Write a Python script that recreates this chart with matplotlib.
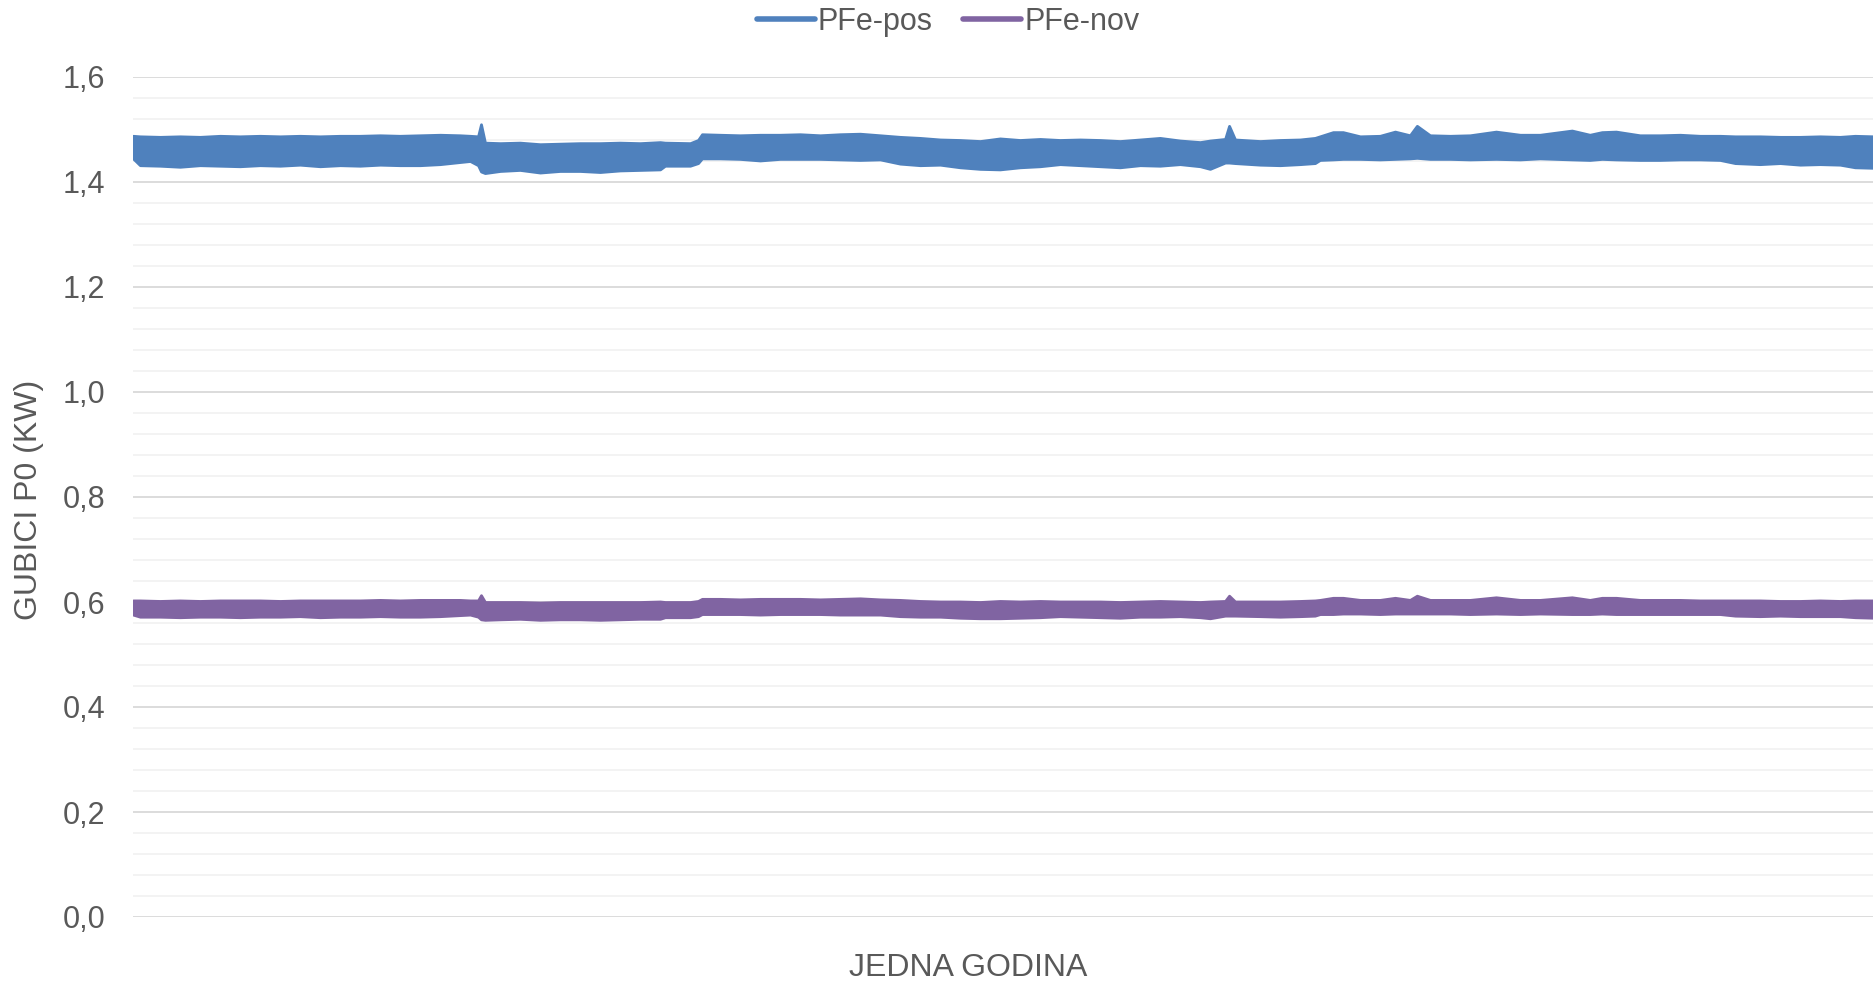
import matplotlib
matplotlib.use('Agg')
import matplotlib.pyplot as plt
from matplotlib.lines import Line2D
from matplotlib.ticker import MultipleLocator, FuncFormatter

plt.rcParams['font.family'] = ['Liberation Sans', 'DejaVu Sans']

# sat u godini (mjesta ocitavanja sa slike)
sati = [0, 35, 136, 236, 337, 438, 538, 639, 740, 840, 941, 1042, 1142, 1243, 1343,
        1444, 1545, 1645, 1696, 1736, 1751, 1771, 1847, 1947, 2048, 2148, 2249, 2350,
        2450, 2551, 2652, 2677, 2803, 2843, 2863, 2954, 3054, 3155, 3255, 3356, 3457,
        3557, 3658, 3759, 3859, 3960, 4061, 4161, 4262, 4362, 4463, 4564, 4664, 4765,
        4866, 4966, 5067, 5167, 5268, 5369, 5419, 5495, 5515, 5545, 5671, 5771, 5872,
        5947, 5972, 6038, 6088, 6174, 6274, 6350, 6425, 6460, 6526, 6627, 6727, 6858,
        6979, 7079, 7240, 7330, 7391, 7462, 7582, 7683, 7784, 7884, 7985, 8061, 8186,
        8287, 8388, 8488, 8589, 8664, 8760]

# PFe-pos: gornja i donja granica pojasa (kW)
pos_gore = [1.488, 1.487, 1.486, 1.487, 1.486, 1.488, 1.487, 1.488, 1.487, 1.488, 1.487,
            1.488, 1.488, 1.489, 1.488, 1.489, 1.490, 1.489, 1.488, 1.487, 1.510, 1.475,
            1.474, 1.475, 1.472, 1.473, 1.474, 1.474, 1.475, 1.474, 1.476, 1.475, 1.474,
            1.480, 1.491, 1.490, 1.489, 1.490, 1.490, 1.491, 1.489, 1.491, 1.492, 1.489,
            1.486, 1.484, 1.481, 1.480, 1.478, 1.483, 1.480, 1.482, 1.480, 1.481, 1.480,
            1.478, 1.481, 1.484, 1.479, 1.476, 1.479, 1.482, 1.507, 1.481, 1.478, 1.480,
            1.481, 1.484, 1.487, 1.495, 1.495, 1.487, 1.488, 1.496, 1.489, 1.507, 1.489,
            1.488, 1.489, 1.496, 1.490, 1.490, 1.498, 1.490, 1.495, 1.496, 1.489, 1.489,
            1.490, 1.488, 1.488, 1.487, 1.487, 1.486, 1.486, 1.487, 1.486, 1.488, 1.487]
pos_dolje = [1.445, 1.432, 1.431, 1.429, 1.432, 1.431, 1.430, 1.432, 1.431, 1.433, 1.430,
             1.432, 1.431, 1.433, 1.432, 1.432, 1.434, 1.438, 1.440, 1.432, 1.420, 1.417,
             1.421, 1.423, 1.418, 1.421, 1.421, 1.419, 1.422, 1.423, 1.424, 1.431, 1.431,
             1.436, 1.445, 1.445, 1.444, 1.441, 1.444, 1.444, 1.444, 1.443, 1.442, 1.443,
             1.435, 1.432, 1.433, 1.428, 1.425, 1.424, 1.428, 1.430, 1.434, 1.432, 1.430,
             1.428, 1.432, 1.431, 1.434, 1.430, 1.425, 1.437, 1.437, 1.436, 1.433, 1.432,
             1.434, 1.436, 1.442, 1.443, 1.444, 1.444, 1.443, 1.444, 1.445, 1.446, 1.444,
             1.444, 1.443, 1.444, 1.443, 1.445, 1.443, 1.442, 1.444, 1.443, 1.442, 1.442,
             1.443, 1.443, 1.442, 1.436, 1.434, 1.436, 1.433, 1.434, 1.433, 1.428, 1.427]

# PFe-nov: gornja i donja granica pojasa (kW)
nov_gore = [0.603, 0.603, 0.602, 0.603, 0.602, 0.603, 0.603, 0.603, 0.602, 0.603, 0.603,
            0.603, 0.603, 0.604, 0.603, 0.604, 0.604, 0.604, 0.603, 0.603, 0.613, 0.600,
            0.600, 0.600, 0.599, 0.600, 0.600, 0.600, 0.600, 0.600, 0.601, 0.600, 0.600,
            0.602, 0.606, 0.606, 0.605, 0.606, 0.606, 0.606, 0.605, 0.606, 0.607, 0.605,
            0.604, 0.602, 0.601, 0.601, 0.600, 0.602, 0.601, 0.602, 0.601, 0.601, 0.601,
            0.600, 0.601, 0.602, 0.601, 0.600, 0.601, 0.602, 0.612, 0.601, 0.601, 0.601,
            0.602, 0.603, 0.604, 0.608, 0.608, 0.604, 0.604, 0.608, 0.604, 0.612, 0.604,
            0.604, 0.604, 0.609, 0.604, 0.604, 0.609, 0.604, 0.608, 0.608, 0.604, 0.604,
            0.604, 0.603, 0.603, 0.603, 0.603, 0.602, 0.602, 0.603, 0.602, 0.603, 0.603]
nov_dolje = [0.576, 0.572, 0.572, 0.571, 0.572, 0.572, 0.571, 0.572, 0.572, 0.573, 0.571,
             0.572, 0.572, 0.573, 0.572, 0.572, 0.573, 0.575, 0.576, 0.572, 0.567, 0.566,
             0.567, 0.568, 0.566, 0.567, 0.567, 0.566, 0.567, 0.568, 0.568, 0.571, 0.571,
             0.573, 0.577, 0.577, 0.577, 0.576, 0.577, 0.577, 0.577, 0.576, 0.576, 0.576,
             0.573, 0.572, 0.572, 0.570, 0.569, 0.569, 0.570, 0.571, 0.573, 0.572, 0.571,
             0.570, 0.572, 0.572, 0.573, 0.571, 0.569, 0.574, 0.574, 0.574, 0.573, 0.572,
             0.573, 0.574, 0.577, 0.577, 0.578, 0.578, 0.577, 0.578, 0.578, 0.578, 0.578,
             0.578, 0.577, 0.578, 0.577, 0.578, 0.577, 0.577, 0.578, 0.577, 0.577, 0.577,
             0.577, 0.577, 0.577, 0.574, 0.573, 0.574, 0.573, 0.573, 0.573, 0.571, 0.570]

serije = ['PFe-pos', 'PFe-nov']
boje = ['#4F81BD', '#8064A2']
siva = '#595959'

fig = plt.figure(figsize=(18.74, 9.84), dpi=100)
ax = fig.add_axes([133/1874, 67/984, 1 - 133/1874, 840/984])

ax.fill_between(sati, pos_dolje, pos_gore, color=boje[0], lw=2, joinstyle='round')
ax.fill_between(sati, nov_dolje, nov_gore, color=boje[1], lw=2, joinstyle='round')

ax.set_xlim(0, 8760)
ax.set_ylim(0, 1.6)
ax.yaxis.set_major_locator(MultipleLocator(0.2))
ax.yaxis.set_minor_locator(MultipleLocator(0.04))
ax.yaxis.set_major_formatter(FuncFormatter(lambda v, p: f"{v:.1f}".replace('.', ',')))
ax.grid(which='major', axis='y', color='#D9D9D9', lw=1.3)
ax.grid(which='minor', axis='y', color='#F2F2F2', lw=1.3)
ax.set_axisbelow(True)
ax.set_xticks([])
for s in ax.spines.values():
    s.set_visible(False)
ax.tick_params(axis='y', which='both', length=0, labelsize=22, labelcolor=siva, pad=20)

fig.text(29/1874, 1 - 500/984, 'GUBICI P0 (KW)', rotation=90, ha='center', va='center',
         fontsize=23, color=siva)
fig.text(968/1874, 1 - 968/984, 'JEDNA GODINA', ha='center', va='center',
         fontsize=23, color=siva)

rucke = [Line2D([0], [0], color=c, lw=4, solid_capstyle='round') for c in boje]
fig.legend(rucke, serije, loc='center', bbox_to_anchor=(948/1874, 1 - 22/984), ncol=2,
           frameon=False, fontsize=22, handlelength=1.9, handletextpad=0.1,
           columnspacing=1.0, labelcolor=siva, borderpad=0)

fig.savefig('out.png', dpi=100)
